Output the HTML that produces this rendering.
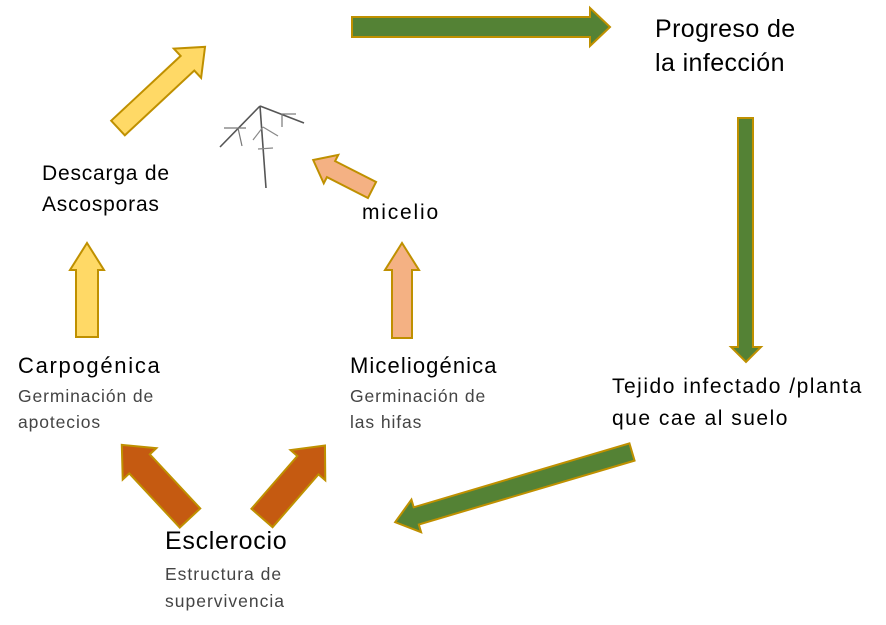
<!DOCTYPE html>
<html><head><meta charset="utf-8"><style>
body{margin:0;background:#fff;width:886px;height:625px;overflow:hidden;position:relative;font-family:"Liberation Sans",sans-serif;color:#000}
.t{position:absolute;white-space:nowrap}
</style></head><body>
<svg width="886" height="625" style="position:absolute;left:0;top:0">
<g stroke-width="2" stroke-linejoin="miter">
<polygon points="352,17 590,17 590,8 610,27 590,46 590,37 352,37" fill="#548235" stroke="#bf9000"/>
<polygon points="738,118 753,118 753,347 761,347 746,362 731,347 738,347" fill="#548235" stroke="#bf9000"/>
<g transform="translate(632,452) rotate(163.5)"><polygon points="0,-9 225,-9 225,-17 247,0 225,17 225,9 0,9" fill="#548235" stroke="#bf9000"/></g>
<g transform="translate(118,128) rotate(-43)"><polygon points="0,-10 95,-10 95,-20 119,0 95,20 95,10 0,10" fill="#ffd966" stroke="#bf9000"/></g>
<g transform="translate(87,337) rotate(-90)"><polygon points="0,-11 67,-11 67,-17 94,0 67,17 67,11 0,11" fill="#ffd966" stroke="#bf9000"/></g>
<g transform="translate(402,338) rotate(-90)"><polygon points="0,-10 68,-10 68,-17 95,0 68,17 68,10 0,10" fill="#f4b183" stroke="#bf9000"/></g>
<g transform="translate(372,190) rotate(-153)"><polygon points="0,-9 46,-9 46,-16 66,0 46,16 46,9 0,9" fill="#f4b183" stroke="#bf9000"/></g>
<g transform="translate(190,518) rotate(-133)"><polygon points="0,-14 74,-14 74,-23 100,0 74,23 74,14 0,14" fill="#c55a11" stroke="#bf9000"/></g>
<g transform="translate(262,518) rotate(-49)"><polygon points="0,-14 70,-14 70,-23 96,0 70,23 70,14 0,14" fill="#c55a11" stroke="#bf9000"/></g>
</g>
<g stroke="#555" stroke-width="1.6" fill="none">
<line x1="260" y1="106" x2="266" y2="188"/>
<line x1="260" y1="106" x2="220" y2="147"/>
<line x1="260" y1="106" x2="304" y2="123"/>
<line x1="238" y1="128" x2="242" y2="146" stroke="#777" stroke-width="1.2"/>
<line x1="224" y1="128" x2="246" y2="128" stroke="#777" stroke-width="1.2"/>
<line x1="282" y1="114" x2="282" y2="127" stroke="#777" stroke-width="1.2"/>
<line x1="282" y1="114" x2="296" y2="114" stroke="#777" stroke-width="1.2"/>
<line x1="263" y1="127" x2="278" y2="136" stroke="#888" stroke-width="1.2"/>
<line x1="263" y1="127" x2="253" y2="140" stroke="#888" stroke-width="1.2"/>
<line x1="258" y1="149" x2="273" y2="148" stroke="#888" stroke-width="1.2"/>
</g>
</svg>
<div class="t" style="left:655px;top:12px;font-size:25px;line-height:34px;letter-spacing:0.4px">Progreso de<br>la infección</div>
<div class="t" style="left:42px;top:158px;font-size:21px;line-height:31px;letter-spacing:0.8px">Descarga de<br>Ascosporas</div>
<div class="t" style="left:362px;top:201px;font-size:21px;letter-spacing:1.8px">micelio</div>
<div class="t" style="left:18px;top:353px;font-size:22px;letter-spacing:1.7px">Carpogénica</div>
<div class="t" style="left:18px;top:383px;font-size:17.5px;line-height:26px;letter-spacing:0.9px;color:#444">Germinación de<br>apotecios</div>
<div class="t" style="left:350px;top:353px;font-size:22px;letter-spacing:1.1px">Miceliogénica</div>
<div class="t" style="left:350px;top:383px;font-size:17.5px;line-height:26px;letter-spacing:0.9px;color:#444">Germinación de<br>las hifas</div>
<div class="t" style="left:612px;top:371px;font-size:21px;line-height:32px;letter-spacing:1.5px">Tejido infectado /planta<br>que cae al suelo</div>
<div class="t" style="left:165px;top:527px;font-size:25px;letter-spacing:0.7px">Esclerocio</div>
<div class="t" style="left:165px;top:561px;font-size:17.5px;line-height:27px;letter-spacing:1px;color:#444">Estructura de<br>supervivencia</div>
</body></html>
